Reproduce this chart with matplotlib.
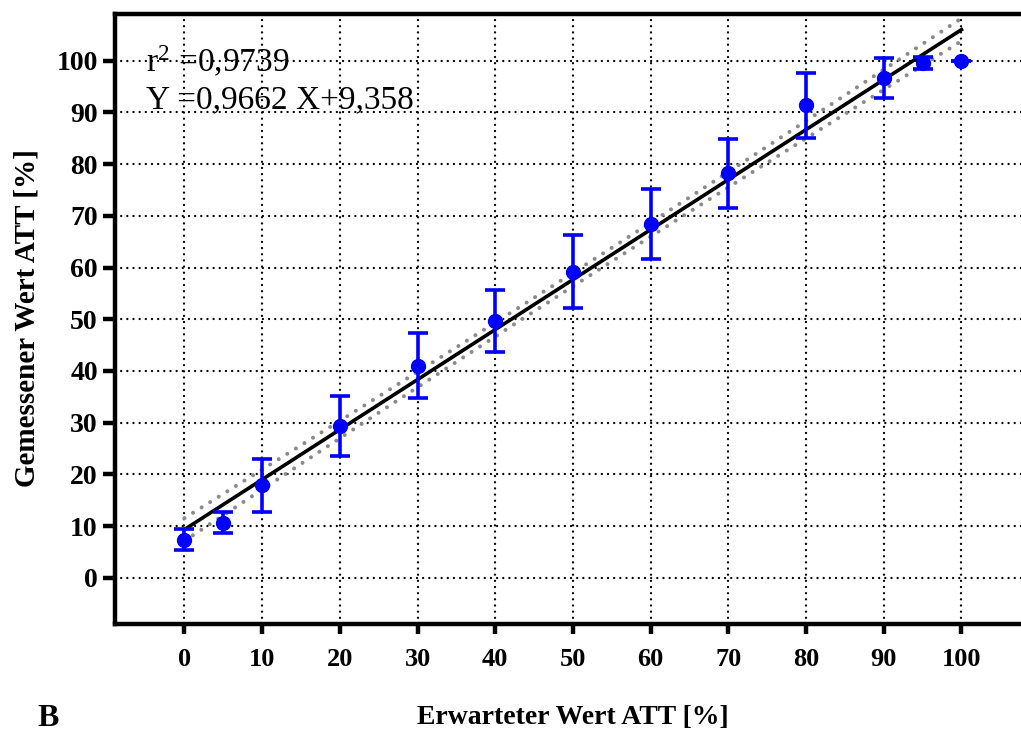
import numpy as np
import matplotlib
matplotlib.use("Agg")
import matplotlib.pyplot as plt

# ---- data ----
x_expected = [0, 5, 10, 20, 30, 40, 50, 60, 70, 80, 90, 95, 100]
y_measured = [7.4, 10.7, 17.9, 29.3, 41.05, 49.7, 59.2, 68.4, 78.2, 91.35, 96.6, 99.5, 100.0]
y_err = [2.0, 2.1, 5.1, 5.8, 6.3, 6.05, 7.1, 6.7, 6.6, 6.25, 3.8, 1.2, 0.0]
slope = 0.9662
intercept = 9.358
r2 = 0.9739
ci_half_center = 1.3   # half-width of 95% band at x mean
ci_half_end = 2.2      # half-width of 95% band at x = 0 / 100
x_ticks = [0, 10, 20, 30, 40, 50, 60, 70, 80, 90, 100]
y_ticks = [0, 10, 20, 30, 40, 50, 60, 70, 80, 90, 100]

plt.rcParams['font.family'] = ['Liberation Serif', 'DejaVu Serif']
plt.rcParams['mathtext.fontset'] = 'custom'
plt.rcParams['mathtext.rm'] = 'Liberation Serif'
plt.rcParams['mathtext.it'] = 'Liberation Serif'

fig = plt.figure(figsize=(10.21, 7.35), dpi=100)
ax = fig.add_axes([114.5/1021, 1-624/735, 1-114.5/1021, (624-14)/735])

ax.set_xlim(-9.0, 107.66)
ax.set_ylim(-8.9, 109.0)

# grid
ax.set_xticks(x_ticks)
ax.set_yticks(y_ticks)
ax.grid(True, color='black', linestyle=(0, (0.01, 2.6)), linewidth=1.7, zorder=0)
for gl in ax.get_xgridlines() + ax.get_ygridlines():
    gl.set_dash_capstyle('round')

# regression line and confidence band
xl = np.linspace(0, 100, 200)
yl = slope * xl + intercept
xm = 50.0
h = np.sqrt(ci_half_center**2 + (ci_half_end**2 - ci_half_center**2) * ((xl - xm) / 50.0)**2)
for yb in (yl + h, yl - h):
    ax.plot(xl, yb, color='#8a8a8a', linestyle=(0, (0.01, 2.5)), linewidth=2.9,
            dash_capstyle='round', zorder=2)
ax.plot(xl, yl, color='black', linewidth=2.6, zorder=3)

# data with error bars
ax.errorbar(x_expected, y_measured, yerr=y_err, fmt='o', color='#0000ff',
            markersize=10, elinewidth=2.6, capsize=7, capthick=2.6, zorder=4)

# spines & ticks
for s in ['left', 'bottom', 'top']:
    ax.spines[s].set_linewidth(3.2)
ax.spines['right'].set_visible(False)
ax.tick_params(axis='both', which='both', direction='out', width=3.2, colors='black')
ax.tick_params(axis='x', length=7.5, pad=10, labelsize=19)
ax.tick_params(axis='y', length=8.5, pad=3.5, labelsize=20)
for lab in ax.get_xticklabels() + ax.get_yticklabels():
    lab.set_fontweight('bold')

# annotation
fig.text(146/1021, 1 - 62/735, r"r$^{2}$ =0,9739", fontsize=24, ha='left', va='center')
fig.text(146/1021, 1 - 100/735, "Y =0,9662 X+9,358", fontsize=24, ha='left', va='center')

# axis labels
fig.text(573/1021, 1 - 718/735, "Erwarteter Wert ATT [%]", fontsize=20,
         fontweight='bold', ha='center', va='center')
fig.text(27/1021, 1 - 318/735, "Gemessener Wert ATT [%]", fontsize=21,
         fontweight='bold', ha='center', va='center', rotation=90)
fig.text(48/1021, 1 - 718/735, "B", fontsize=23, fontweight='bold',
         ha='center', va='center')

fig.savefig("out.png", dpi=100)
